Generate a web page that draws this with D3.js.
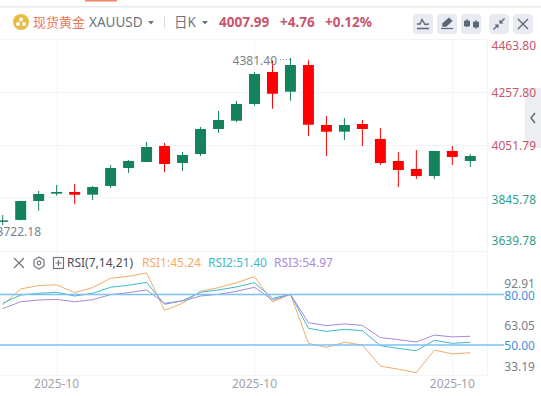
<!DOCTYPE html>
<html>
<head>
<meta charset="utf-8">
<script src="https://cdn.jsdelivr.net/npm/d3@7"></script>
<style>
html, body { margin: 0; padding: 0; background: #fff; overflow: hidden; }
text { font-family: "Noto Sans", "Noto Sans CJK SC", sans-serif; }
</style>
</head>
<body>
<div id="graph"></div>
<script>
const width = 541;
const height = 396;

// candles, oldest first
const opens = [3751, 3756.6, 3830.9, 3859.6, 3866.2, 3855.6, 3889.7, 3960.2, 3983.7, 4046.3, 3979.8, 4015, 4112.9, 4145.4, 4210.8, 4336.1, 4259, 4363.5, 4128.6, 4102.3, 4132.5, 4073.8, 3987.6, 3956.3, 3928.9, 4026.8, 3987.6];
const highs = [3776, 3832, 3870.1, 3893.6, 3897.5, 3889.7, 3971.9, 3991.5, 4062, 4058.1, 4022.8, 4120.8, 4183.4, 4222.6, 4336.1, 4381.4, 4390.9, 4381.9, 4163.8, 4156, 4148.2, 4116.8, 4022.8, 4030.7, 4026.8, 4046.3, 4015];
const lows = [3737, 3755, 3793, 3851.7, 3819.2, 3834.9, 3881.9, 3940.6, 3983.7, 3944.5, 3948.4, 4007.2, 4097.3, 4140.3, 4204.6, 4192.4, 4223.7, 4085.5, 4007.2, 4069.8, 4046.3, 3971.9, 3885.8, 3917.1, 3917.1, 3971.9, 3964.1];
const closes = [3755, 3830.9, 3858.4, 3866.2, 3855.6, 3885.8, 3960.2, 3987.6, 4042.4, 3975.9, 4011.1, 4112.9, 4148.2, 4210.8, 4328.3, 4251.1, 4363.5, 4129.7, 4102.3, 4128.6, 4112.9, 3979.8, 3952.4, 3928.9, 4026.8, 4003.3, 4007.2];

const rsi1 = [73.8, 83.3, 85.3, 85.8, 81.1, 84.1, 89.6, 90.8, 92.8, 70.6, 74.8, 81.9, 84.1, 87, 90.6, 75.7, 80.1, 51, 48.6, 51.6, 50, 37.5, 35.6, 33.6, 47, 44.7, 45.4];
const rsi2 = [74.8, 79.7, 80.7, 81.3, 79.1, 80.7, 84.3, 85.5, 87.2, 74.2, 76.3, 81.3, 82.7, 84.5, 87, 77.7, 80.1, 59.9, 58.1, 59.3, 58.5, 49.6, 48, 46.6, 52.8, 51, 51.6];
const rsi3 = [71.6, 75.7, 76.7, 77.1, 75.7, 76.9, 79.9, 81.1, 82.7, 74.8, 76.1, 79.1, 80.1, 81.9, 84.3, 76.7, 80.1, 63.3, 61.5, 62.5, 61.7, 54.4, 53.2, 51.8, 55.9, 54.8, 55.2];

const priceTicks = [4463.80, 4257.80, 4051.79, 3845.78, 3639.78];
const rsiTicks = [92.91, 80.00, 63.05, 50.00, 33.19];
const rsiRefs = [80, 50];
const dateTicks = [3, 14, 25];
const dateLabels = ["2025-10", "2025-10", "2025-10"];

const colorUp = "#14835c";
const colorDown = "#ff0000";
const colorRedText = "#c9566c";
const colorGreenText = "#2f9e8c";
const colorGrey = "#7b7f87";
const colorGrid = "#f3f4f7";
const colorRef = "#7cc0f7";
const colorBtn = "#e8ebf2";
const colorIcon = "#5c6677";
const rsiColors = ["#f2ab6d", "#3fb9c6", "#a88ad8"];

const paneRight = 487;
const bodyWidth = 11;

const x = d3.scaleLinear().domain([0, 26]).range([2.7, 470.3]);
const y = d3.scaleLinear().domain([3845.78, 4257.80]).range([197.2, 92]);
const yRsi = d3.scaleLinear().domain([50, 80]).range([345, 294.5]);

const svg = d3.select("#graph")
              .append("svg")
              .attr("width", width)
              .attr("height", height)
              .style("display", "block");

const idx = d3.range(opens.length);

// header strip
svg.append("rect").attr("x", 85).attr("y", 0).attr("width", 32).attr("height", 1.5).attr("fill", "#f2876a");
svg.append("rect").attr("x", 0).attr("y", 6).attr("width", width).attr("height", 1.5).attr("fill", "#e8eaf0");

svg.append("circle").attr("cx", 21).attr("cy", 22).attr("r", 8).attr("fill", "#e8bb45");
svg.append("g").attr("fill", "#fff")
   .selectAll("circle").data([[21, 19.5], [18, 24], [24, 24]]).join("circle")
   .attr("cx", d => d[0]).attr("cy", d => d[1]).attr("r", 2);

function headText(px, txt, color, size, weight) {
    svg.append("text").attr("x", px).attr("y", 27)
       .attr("fill", color).attr("font-size", size).attr("font-weight", weight || 400)
       .text(txt);
}
headText(33, "现货黄金", "#e8795a", 13);
headText(89, "XAUUSD", "#6f7480", 13.5);
headText(174, "日K", "#6f7480", 13.5);
headText(219, "4007.99", colorRedText, 13.5, 700);
headText(280, "+4.76", colorRedText, 13.5, 700);
headText(325, "+0.12%", colorRedText, 13.5, 700);

svg.selectAll("path.caret").data([151, 205]).join("path")
   .attr("class", "caret")
   .attr("d", d => `M${d - 3},21 L${d + 3},21 L${d},24.5 Z`)
   .attr("fill", "#6f7480");
svg.append("line").attr("x1", 164.5).attr("x2", 164.5).attr("y1", 16).attr("y2", 28).attr("stroke", "#d8dbe2");

// toolbar buttons
const buttons = [413, 437, 461, 489, 513];
svg.selectAll("rect.btn").data(buttons).join("rect")
   .attr("class", "btn")
   .attr("x", d => d).attr("y", 14).attr("width", 20).attr("height", 20).attr("rx", 4)
   .attr("fill", colorBtn);
const icons = svg.append("g").attr("fill", "none").attr("stroke", colorIcon).attr("stroke-width", 1.4);
icons.append("path").attr("d", "M417,28.5 H429 M417,24 L420,24 L422,19.5 L425,24.5 L429,24");
icons.append("path").attr("d", "M441,28.5 H453").attr("stroke-width", 1.2);
icons.append("path").attr("d", "M443,26 L443,23.5 L449,18.5 L451.5,21 L446,26 Z").attr("fill", colorIcon);
icons.append("path").attr("d", "M467,19 V27 M476,20 V29 M464.5,21 h5 v5 h-5 Z M473.5,22 h5 v5 h-5 Z").attr("fill", colorIcon).attr("stroke-width", 1);
icons.append("path").attr("d", "M493.5,29.5 L498,25 M504.5,18.5 L500,23");
icons.append("path").attr("d", "M494.5,24.5 H498.5 V28.5 Z M503.5,23.5 H499.5 V19.5 Z").attr("fill", colorIcon).attr("stroke", "none");
icons.append("path").attr("d", "M518,19 L528,29 M528,19 L518,29");

// collapse tab, the price labels sit on top of it
svg.append("path").attr("d", "M541,88 H529 Q525,88 525,92 V144 Q525,148 529,148 H541 Z").attr("fill", "#eceef2");
svg.append("path").attr("d", "M535,113 L531,118 L535,123").attr("fill", "none").attr("stroke", colorIcon).attr("stroke-width", 1.4);

// grid
const grid = svg.append("g").attr("stroke", colorGrid).attr("stroke-width", 1);
grid.selectAll("line.h").data([4257.80, 4051.79, 3845.78]).join("line")
    .attr("class", "h")
    .attr("x1", 0).attr("x2", paneRight)
    .attr("y1", d => Math.round(y(d)) + 0.5).attr("y2", d => Math.round(y(d)) + 0.5);
grid.selectAll("line.v").data(dateTicks).join("line")
    .attr("class", "v")
    .attr("x1", d => Math.round(x(d)) + 0.5).attr("x2", d => Math.round(x(d)) + 0.5)
    .attr("y1", 39).attr("y2", 375);
grid.selectAll("line.b").data([39.5, 251.5, 375.5]).join("line")
    .attr("class", "b")
    .attr("x1", 0).attr("x2", paneRight)
    .attr("y1", d => d).attr("y2", d => d);
grid.append("line").attr("x1", paneRight + 0.5).attr("x2", paneRight + 0.5).attr("y1", 39).attr("y2", 375);

// candles
const candle = svg.append("g").selectAll("g").data(idx).join("g")
    .attr("fill", i => closes[i] >= opens[i] ? colorUp : colorDown)
    .attr("stroke", i => closes[i] >= opens[i] ? colorUp : colorDown);
candle.append("line")
      .attr("x1", i => x(i)).attr("x2", i => x(i))
      .attr("y1", i => y(highs[i])).attr("y2", i => y(lows[i]))
      .attr("stroke-width", 1);
candle.append("rect")
      .attr("x", i => x(i) - bodyWidth / 2)
      .attr("y", i => y(Math.max(opens[i], closes[i])))
      .attr("width", bodyWidth)
      .attr("height", i => Math.max(1.5, Math.abs(y(opens[i]) - y(closes[i]))))
      .attr("stroke", "none");

// high / low notes
svg.append("text").attr("x", 277).attr("y", 65).attr("text-anchor", "end")
   .attr("fill", colorGrey).attr("font-size", 12).text("4381.40");
svg.append("line").attr("x1", 280).attr("x2", 290).attr("y1", 59.5).attr("y2", 59.5)
   .attr("stroke", "#8a8d94").attr("stroke-dasharray", "1,2");
svg.append("text").attr("x", 41).attr("y", 236).attr("text-anchor", "end")
   .attr("fill", colorGrey).attr("font-size", 12).text("3722.18");

// price labels, top and bottom ones are pushed inside the pane
const priceLabelY = [46, 92.5, 146, 199.5, 241];
svg.append("g").selectAll("text").data(priceTicks).join("text")
   .attr("x", 536).attr("y", (d, i) => priceLabelY[i]).attr("dy", "0.35em")
   .attr("text-anchor", "end").attr("font-size", 12)
   .attr("fill", d => d > 4000 ? colorRedText : colorGreenText)
   .text(d => d.toFixed(2));

// rsi legend
const legend = svg.append("g").attr("fill", "none").attr("stroke", "#6f7480").attr("stroke-width", 1.2);
legend.append("path").attr("d", "M14,258 L24,268 M24,258 L14,268");
legend.append("path").attr("d", "M39,257 L44,260 L44,266 L39,269 L34,266 L34,260 Z");
legend.append("circle").attr("cx", 39).attr("cy", 263).attr("r", 1.8);
legend.append("rect").attr("x", 53.5).attr("y", 257.5).attr("width", 10).attr("height", 11);
legend.append("path").attr("d", "M58.5,260 V266 M55.5,263 H61.5");

const legendLabels = ["RSI1:45.24", "RSI2:51.40", "RSI3:54.97"];
const legendX = [142, 208, 274];
svg.append("text").attr("x", 67).attr("y", 267).attr("font-size", 12).attr("fill", "#4a4d55").text("RSI(7,14,21)");
svg.append("g").selectAll("text").data(legendLabels).join("text")
   .attr("x", (d, i) => legendX[i]).attr("y", 267).attr("font-size", 12)
   .attr("fill", (d, i) => rsiColors[i])
   .text(d => d);

// rsi lines
const line = d3.line().x((d, i) => x(i)).y(d => yRsi(d));
svg.append("g").attr("fill", "none").attr("stroke-width", 1)
   .selectAll("path").data([rsi1, rsi2, rsi3]).join("path")
   .attr("d", line)
   .attr("stroke", (d, i) => rsiColors[i]);

svg.append("g").selectAll("line").data(rsiRefs).join("line")
   .attr("x1", 0).attr("x2", 504)
   .attr("y1", d => yRsi(d)).attr("y2", d => yRsi(d))
   .attr("stroke", colorRef).attr("stroke-width", 1.6);

const rsiLabelY = [284, 295.5, 325.5, 345.5, 366.5];
svg.append("g").selectAll("text").data(rsiTicks).join("text")
   .attr("x", 535).attr("y", (d, i) => rsiLabelY[i]).attr("dy", "0.35em")
   .attr("text-anchor", "end").attr("font-size", 12)
   .attr("fill", d => rsiRefs.includes(d) ? "#3f93dc" : colorGrey)
   .text(d => d.toFixed(2));

// date axis
svg.append("g").selectAll("text").data(dateTicks).join("text")
   .attr("x", d => x(d)).attr("y", 388).attr("text-anchor", "middle")
   .attr("font-size", 12).attr("fill", "#a0a3aa")
   .text((d, i) => dateLabels[i]);
</script>
</body>
</html>
